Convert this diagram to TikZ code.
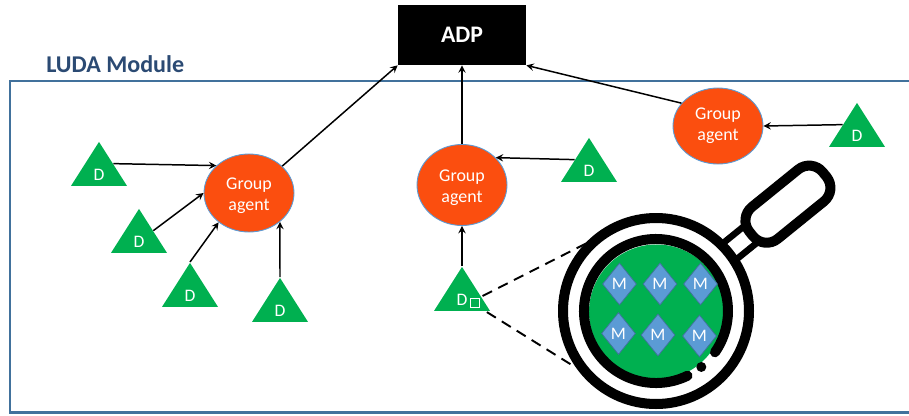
\documentclass[tikz,border=0pt]{standalone}
\usepackage{fontspec}
\setmainfont{Carlito}
\usetikzlibrary{shapes.geometric}
\definecolor{ludablue}{HTML}{41719C}
\definecolor{ludatext}{HTML}{2B4A73}
\definecolor{dgreen}{HTML}{00B050}
\definecolor{agentred}{HTML}{FB4E0F}
\definecolor{mblue}{HTML}{5B9BD5}
\newcommand{\grouplow}{\rule{0pt}{10pt}Group\\agent}
\tikzset{
	link/.style={line width=.85pt, ->, >=stealth},
	agent/.style={ellipse, fill=agentred, draw=mblue, line width=.5pt, text=white, align=center, inner sep=0pt, font=\fontsize{10.2}{12.2}\selectfont},
	dtri/.style={isosceles triangle, isosceles triangle stretches, shape border rotate=90, fill=dgreen, minimum width=1.12cm, minimum height=.88cm, inner sep=0pt, anchor=apex, text=white, text height=11pt, font=\fontsize{10}{10}\selectfont},
	mdia/.style={diamond, aspect=.8, fill=mblue, draw=ludablue, line width=.4pt, minimum width=.68cm, minimum height=.84cm, inner sep=0pt, text=white, font=\fontsize{10}{10}\selectfont},
	lensline/.style={line width=.2cm, black},
	hook/.style={line width=1.1pt, dash pattern=on 6pt off 4pt}
}
\begin{document}
\begin{tikzpicture}
	\useasboundingbox (0,0) rectangle (18.18,8.3);
	\node[fill=black, text=white, minimum width=2.56cm, minimum height=1.2cm, font=\fontsize{13.5}{15}\selectfont\bfseries] (adp) at (9.24,7.6){ADP};
	\draw[ludablue, line width=1.7pt] (.2,6.68) rectangle (18.4,.05);
	\node[anchor=west, inner sep=0pt, text=ludatext, font=\fontsize{13.7}{15}\selectfont\bfseries] (title) at (.92,7.02){LUDA Module};
	%%%%%%%%%%%%%%%%%%%%%%%%%%%%%%%%
	\node[agent, minimum width=1.8cm, minimum height=1.56cm] (agentl) at (4.98,4.44){\grouplow};
	\node[agent, minimum width=1.8cm, minimum height=1.62cm] (agentm) at (9.24,4.6){\grouplow};
	\node[agent, minimum width=1.8cm, minimum height=1.52cm] (agentr) at (14.36,5.78){Group\\agent};
	\node[dtri] (da) at (1.98,5.48){D};
	\node[dtri] (db) at (2.78,4.14){D};
	\node[dtri] (dc) at (3.8,3.06){D};
	\node[dtri] (dd) at (5.6,2.76){D};
	\node[dtri] (de) at (11.78,5.56){D};
	\node[dtri] (df) at (9.24,2.98){D};
	\node[dtri] (dg) at (17.14,6.26){D};
	\node[draw=white, line width=.5pt, minimum size=.18cm, inner sep=0pt] (dbox) at (9.49,2.25){};
	%%%%%%%%%%%%%%%%%%%%%%%%%%%%%%%%
	\draw[link] (da.right side)--(agentl.140);
	\draw[link] (db.right side)--(agentl.180);
	\draw[link] (dc.apex)--(agentl.224);
	\draw[link] (dd.apex)--(agentl.317);
	\draw[link] (de.left side)--(agentm.39);
	\draw[link] (df.apex)--(agentm.south);
	\draw[link] (dg.left side)--(agentr.east);
	\draw[link] (agentl.39)--(adp.south west);
	\draw[link] (agentm.north)--(adp.south);
	\draw[link] (agentr.148)--(adp.south east);
	%%%%%%%%%%%%%%%%%%%%%%%%%%%%%%%%
	\coordinate (lensa) at (11.74,3.44);
	\coordinate (lensb) at (11.5,.96);
	\draw[hook, shorten <=2pt] (dbox.north east)--(lensa);
	\draw[hook, shorten <=5pt] (dbox.south east)--(lensb);
	%%%%%%%%%%%%%%%%%%%%%%%%%%%%%%%%
	\fill[dgreen] (13.13,2.06) circle (1.35);
	\draw[lensline] (13.12,2.08) circle (1.86);
	\draw[lensline, line cap=round] (13.12,2.08) ++(-64:1.44) arc(-64:-395:1.44);
	\fill (13.12,2.08) ++(-51:1.44) circle (.1);
	\begin{scope}[shift={(13.12,2.08)}, rotate=39]
		\draw[lensline, rounded corners=.35cm] (2.45,-.41) rectangle (4.34,.41);
		\draw[line width=.13cm] (1.9,.21)--(2.45,.21);
		\draw[line width=.13cm] (1.9,-.21)--(2.45,-.21);
	\end{scope}
	%%%%%%%%%%%%%%%%%%%%%%%%%%%%%%%%
	\node[mdia] (ma) at (12.39,2.62){M};
	\node[mdia] (mb) at (13.2,2.62){M};
	\node[mdia] (mc) at (14.01,2.62){M};
	\node[mdia] (md) at (12.37,1.63){M};
	\node[mdia] (me) at (13.16,1.6){M};
	\node[mdia] (mf) at (13.99,1.58){M};
\end{tikzpicture}
\end{document}
